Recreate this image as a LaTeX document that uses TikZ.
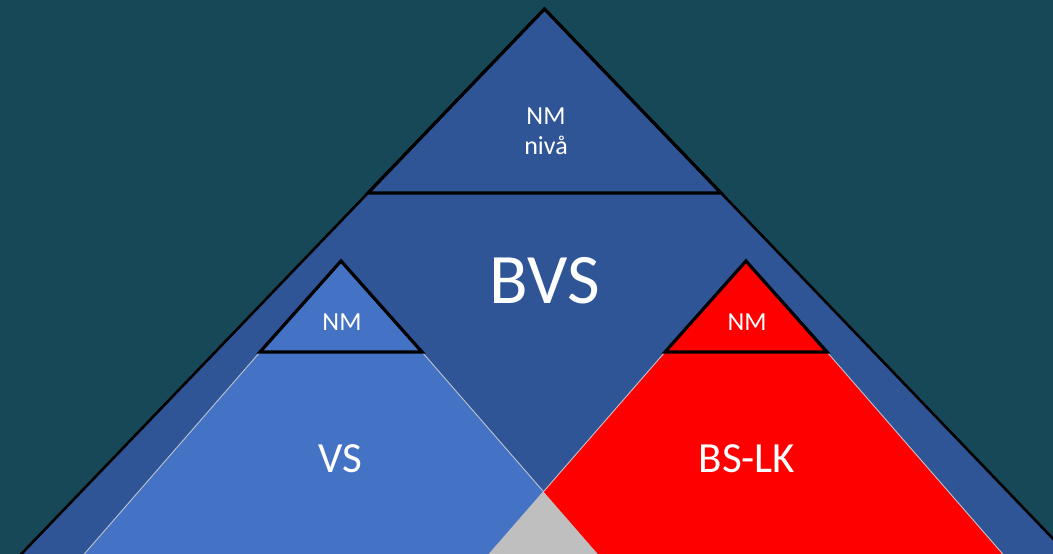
\documentclass[tikz,border=0pt]{standalone}
\usepackage{fontspec}
\setmainfont{Carlito}
\definecolor{bgteal}{RGB}{23,72,87}
\definecolor{bvsblue}{RGB}{47,85,151}
\definecolor{vsblue}{RGB}{68,114,196}
\definecolor{bsred}{RGB}{255,0,0}
\definecolor{overlapgray}{RGB}{191,191,191}
\definecolor{thinline}{RGB}{190,195,205}
\tikzset{
  outline/.style={draw=black, line width=2.6pt, line join=miter},
  thickoutline/.style={draw=black, line width=3.2pt, line join=miter},
  thinedge/.style={draw=thinline, line width=0.9pt},
  lbl/.style={text=white, inner sep=0pt, anchor=base},
}
\begin{document}
\begin{tikzpicture}[x=1pt,y=-1pt]
  \useasboundingbox (0,0) rectangle (1053,554);
  \fill[bgteal] (0,0) rectangle (1053,554);
  \begin{scope}
    \clip (0,0) rectangle (1053,554);
    % big BVS triangle
    \path[fill=bvsblue, outline] (544.5,9) -- (544.5-0.96*600,609) -- (544.5+0.96*600,609) -- cycle;
    % top NM triv triangle
    \path[fill=bvsblue, thickoutline] (544.5,9) -- (368,193) -- (721,193) -- cycle;
    % VS lower body
    \path[fill=vsblue, thinedge] (260,352) -- (422,352) -- (422+0.87*250,602) -- (260-0.87*250,602) -- cycle;
    % BS-LK lower body
    \path[fill=bsred, thinedge] (665,352) -- (827,352) -- (827+0.87*250,602) -- (665-0.87*250,602) -- cycle;
    % overlap
    \path[fill=overlapgray] (543.5,491.7) -- (543.5+0.87*110,601.7) -- (543.5-0.87*110,601.7) -- cycle;
    % small NM triangles
    \path[fill=vsblue, thickoutline] (341,261) -- (260,352) -- (422,352) -- cycle;
    \path[fill=bsred, thickoutline] (746,261) -- (665,352) -- (827,352) -- cycle;
  \end{scope}
  % labels
  \node[text=white, inner sep=0pt, anchor=north, align=center, font=\fontsize{26}{30}\selectfont] (nmniva) at (546,108) {NM\\nivå};
  \node[lbl, font=\fontsize{71}{80}\selectfont] (bvs) at (545,303) {BVS};
  \node[lbl, font=\fontsize{26}{30}\selectfont] (nmvs) at (342,330) {NM};
  \node[lbl, font=\fontsize{26}{30}\selectfont] (nmbs) at (747,330) {NM};
  \node[lbl, font=\fontsize{43}{50}\selectfont] (vs) at (340,472) {VS};
  \node[lbl, font=\fontsize{43}{50}\selectfont] (bslk) at (747,472) {BS-LK};
\end{tikzpicture}
\end{document}
